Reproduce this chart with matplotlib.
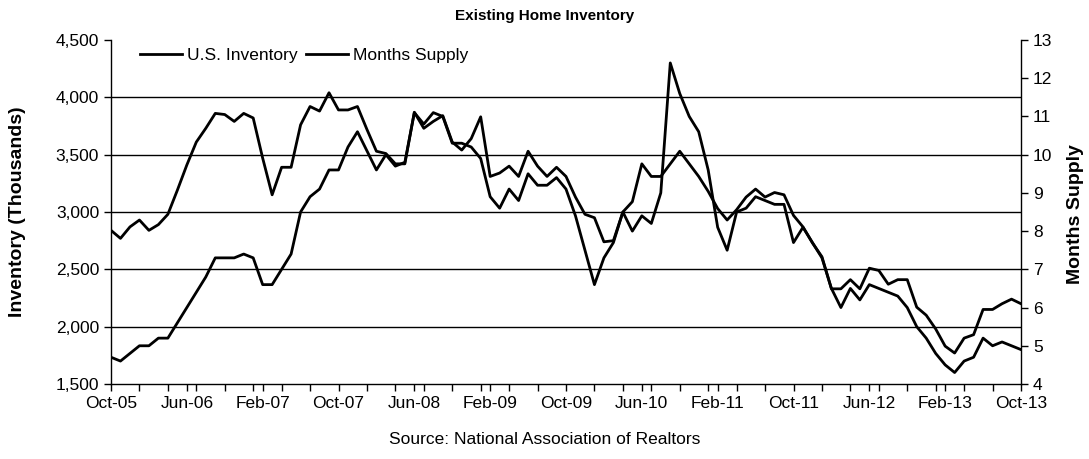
import matplotlib
matplotlib.use("Agg")
import matplotlib.pyplot as plt
from matplotlib.ticker import FuncFormatter, MultipleLocator
import numpy as np

plt.rcParams['font.family'] = ['Liberation Sans', 'DejaVu Sans']

# Monthly data, Oct-05 .. Oct-13 (97 months)
inventory = [2840, 2770, 2870, 2930, 2840, 2890, 2980, 3190, 3410, 3610,
             3730, 3860, 3850, 3790, 3860, 3820, 3470, 3150, 3390, 3390,
             3760, 3920, 3880, 4040, 3890, 3890, 3920, 3720, 3530, 3510,
             3420, 3420, 3870, 3730, 3790, 3840, 3610, 3540, 3640, 3830,
             3310, 3340, 3400, 3310, 3530, 3400, 3310, 3390, 3310, 3130,
             2980, 2950, 2740, 2750, 3000, 3090, 3420, 3310, 3310, 3420,
             3530, 3420, 3310, 3180, 3030, 2930, 3020, 3130, 3200, 3130,
             3170, 3150, 2970, 2870, 2730, 2610, 2330, 2330, 2410, 2330,
             2510, 2490, 2370, 2410, 2410, 2170, 2100, 1980, 1830, 1770,
             1900, 1930, 2150, 2150, 2200, 2240, 2200]

months_supply = [4.7, 4.6, 4.8, 5.0, 5.0, 5.2, 5.2, 5.6, 6.0, 6.4,
                 6.8, 7.3, 7.3, 7.3, 7.4, 7.3, 6.6, 6.6, 7.0, 7.4,
                 8.5, 8.9, 9.1, 9.6, 9.6, 10.2, 10.6, 10.1, 9.6, 10.0,
                 9.7, 9.8, 11.1, 10.8, 11.1, 11.0, 10.3, 10.3, 10.2, 9.9,
                 8.9, 8.6, 9.1, 8.8, 9.5, 9.2, 9.2, 9.4, 9.1, 8.4,
                 7.5, 6.6, 7.3, 7.7, 8.5, 8.0, 8.4, 8.2, 9.0, 12.4,
                 11.6, 11.0, 10.6, 9.6, 8.1, 7.5, 8.5, 8.6, 8.9, 8.8,
                 8.7, 8.7, 7.7, 8.1, 7.7, 7.3, 6.5, 6.0, 6.5, 6.2,
                 6.6, 6.5, 6.4, 6.3, 6.0, 5.5, 5.2, 4.8, 4.5, 4.3,
                 4.6, 4.7, 5.2, 5.0, 5.1, 5.0, 4.9]

tick_labels = ['Oct-05', 'Jun-06', 'Feb-07', 'Oct-07', 'Jun-08', 'Feb-09',
               'Oct-09', 'Jun-10', 'Feb-11', 'Oct-11', 'Jun-12', 'Feb-13', 'Oct-13']

x = np.arange(len(inventory))

fig = plt.figure(figsize=(10.89, 4.59), dpi=100)
ax = fig.add_axes([111/1089, 1-384/459, (1021-111)/1089, (384-40)/459])
ax2 = ax.twinx()

l1, = ax.plot(x, inventory, color='black', lw=2.0, label='U.S. Inventory', zorder=3)
l2, = ax2.plot(x, months_supply, color='black', lw=2.0, label='Months Supply', zorder=3)

ax.set_xlim(0, len(x) - 1)
ax.set_ylim(1500, 4500)
ax2.set_ylim(4, 13)
ax.set_yticks(np.arange(1500, 4501, 500))
ax2.set_yticks(np.arange(4, 14, 1))
ax.yaxis.set_major_formatter(FuncFormatter(lambda v, p: f"{int(v):,}"))

ax.set_xticks(np.arange(0, len(x), 8))
ax.set_xticklabels(tick_labels)
ax.xaxis.set_minor_locator(MultipleLocator(3))

for g in [2000, 2500, 3000, 3500, 4000]:
    ax.axhline(g, color='black', lw=1.0, zorder=1)

for a in (ax, ax2):
    a.spines['top'].set_visible(False)
    for s in a.spines.values():
        s.set_color('black')
        s.set_linewidth(1.0)
ax.spines['right'].set_visible(False)
ax2.spines['left'].set_visible(False)
ax2.spines['bottom'].set_visible(False)

ax.tick_params(axis='both', which='both', direction='out', length=5, width=1,
               labelsize=12.5, colors='black')
ax.tick_params(axis='x', which='minor', length=5)
ax.tick_params(axis='x', pad=4)
ax2.tick_params(axis='y', direction='out', length=5, width=1, labelsize=12.5)

fig.text(0.5, 1-16/459, 'Existing Home Inventory', ha='center', va='center',
         fontsize=11, fontweight='bold')
fig.text(18/1089, 1-212/459, 'Inventory (Thousands)', ha='center', va='center',
         rotation=90, fontsize=14, fontweight='bold')
fig.text(1076/1089, 1-214/459, 'Months Supply', ha='center', va='center',
         rotation=90, fontsize=14, fontweight='bold')
fig.text(0.5, 1-440/459, 'Source: National Association of Realtors', ha='center',
         va='center', fontsize=12.5)

leg = ax.legend([l1, l2], ['U.S. Inventory', 'Months Supply'], loc='upper left',
                bbox_to_anchor=(29/910, 1-8/344), ncol=2, frameon=False,
                borderpad=0, borderaxespad=0, handlelength=2.4, handletextpad=0.3,
                columnspacing=0.5, fontsize=12.5)
leg.set_zorder(5)

fig.savefig('out.png', dpi=100, facecolor='white')
